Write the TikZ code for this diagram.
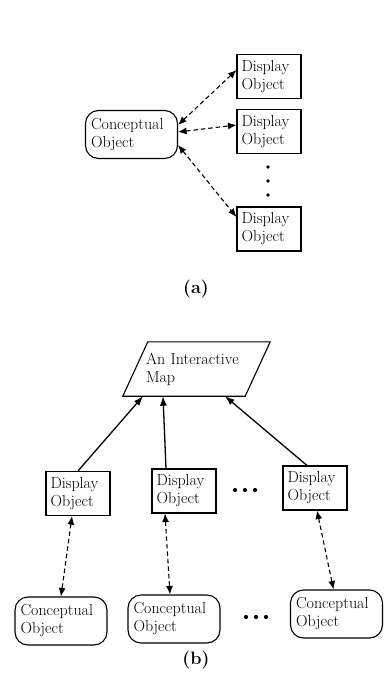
\documentclass[tikz,border=0pt]{standalone}
\usepackage{fontspec}
\usepackage{tikz,amsmath,amssymb}
\usetikzlibrary{arrows.meta}
\newcommand{\boxfont}{\fontsize{16}{18}\selectfont}
\tikzstyle{display}=[rectangle, draw=black, line width=1.1pt, align=left, text width=55pt, inner xsep=4.5pt, minimum height=44pt, font=\boxfont]
\tikzstyle{concept}=[rectangle, rounded corners=13pt, draw=black, line width=1.1pt, align=left, text width=81pt, inner xsep=5.5pt, minimum height=48pt, font=\boxfont]
\tikzstyle{twoway}=[dash pattern=on 4.5pt off 3pt, line width=1.1pt, {Latex[length=8.5pt,width=7pt]}-{Latex[length=8.5pt,width=7pt]}]
\tikzstyle{oneway}=[line width=1.3pt, -{Latex[length=9.5pt,width=7pt]}]

\begin{document}
\begin{tikzpicture}[x=1pt,y=-1pt]
\fill[white] (0,0) rectangle (389,683);
\useasboundingbox (0,0) rectangle (389,683);
% (a) one conceptual object, many displays
\node[concept] (ca) at (131.5,134.5) {Conceptual\\Object};
\node[display] (da1) at (269,76.5) {Display\\Object};
\node[display] (da2) at (269,131.5) {Display\\Object};
\node[display] (da3) at (269,229) {Display\\Object};
\foreach \y in {167,181,195} \fill (268,\y) circle (1.8pt);
\draw[twoway] ([yshift=9.5pt]ca.east) -- ([yshift=6.5pt]da1.west);
\draw[twoway] ([yshift=2.5pt]ca.east) -- ([yshift=6.5pt]da2.west);
\draw[twoway] ([yshift=-10.5pt]ca.east) -- ([yshift=12pt]da3.west);
\node[font=\fontsize{18}{20}\bfseries\selectfont] (lbla) at (196,289) {(a)};
% (b) the interactive map
\node[minimum width=122pt, minimum height=54pt, align=left, text width=101pt, inner xsep=10.5pt, font=\boxfont] (map) at (196.5,369) {An Interactive\\Map};
\draw[line width=1.1pt] ([xshift=12.5pt]map.north west) -- ([xshift=12.5pt]map.north east)
  -- ([xshift=-12.5pt]map.south east) -- ([xshift=-12.5pt]map.south west) -- cycle;
\node[display] (db1) at (78,493.5) {Display\\Object};
\node[display] (db2) at (184,491) {Display\\Object};
\node[display] (db3) at (315,488) {Display\\Object};
\foreach \x in {235,245,255} \fill (\x,490) circle (2.1pt);
\node[concept] (cb1) at (61,621) {Conceptual\\Object};
\node[concept] (cb2) at (174,619) {Conceptual\\Object};
\node[concept] (cb3) at (336.5,614) {Conceptual\\Object};
\foreach \x in {246,256,266} \fill (\x,617) circle (2.1pt);
\draw[oneway] (db1.north) -- ([xshift=-53.5pt]map.south);
\draw[oneway] ([xshift=-18pt]db2.north) -- ([xshift=-33.5pt]map.south);
\draw[oneway] ([xshift=-8pt]db3.north) -- ([xshift=28.5pt]map.south);
\draw[twoway] ([xshift=-6pt]db1.south) -- (cb1.north);
\draw[twoway] ([xshift=-19pt]db2.south) -- ([xshift=-4pt]cb2.north);
\draw[twoway] ([xshift=2pt]db3.south) -- ([xshift=-3pt]cb3.north);
\node[font=\fontsize{18}{20}\bfseries\selectfont] (lblb) at (196,660) {(b)};
\end{tikzpicture}
\end{document}
